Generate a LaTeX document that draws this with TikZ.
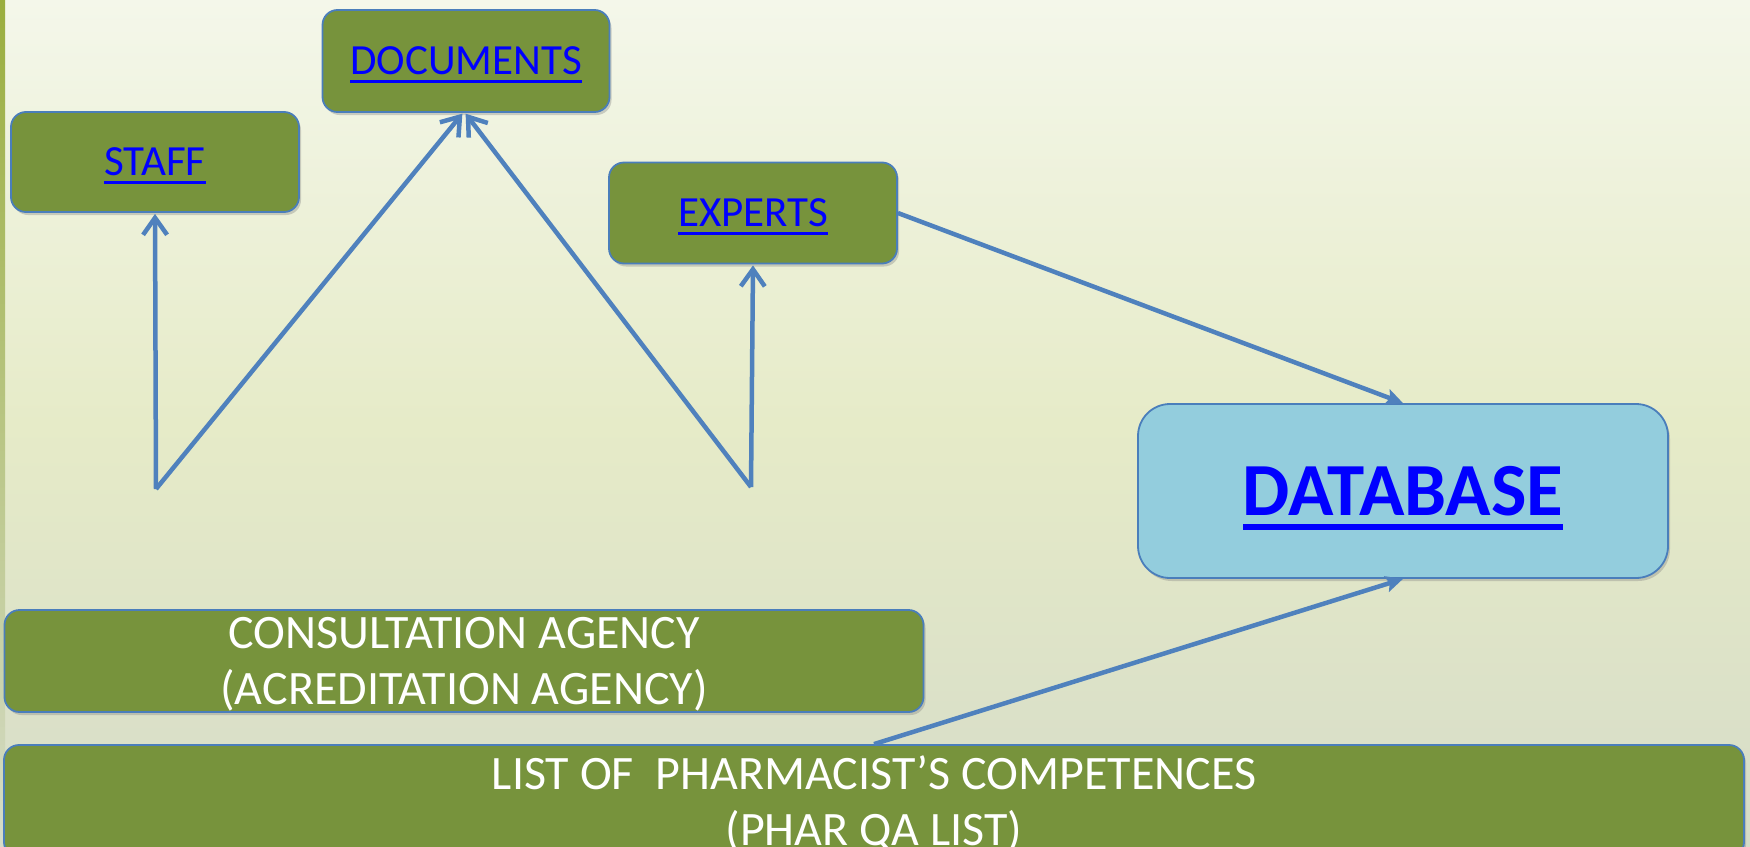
\documentclass[tikz,border=0pt]{standalone}
\usepackage{fontspec}
\setmainfont{Carlito}
\usetikzlibrary{arrows.meta,shadows}

\definecolor{olivebox}{HTML}{77933C}
\definecolor{edgeblue}{HTML}{4A7EBB}
\definecolor{arrowblue}{HTML}{4F81BD}
\definecolor{dbblue}{HTML}{93CDDD}
\definecolor{linkblue}{HTML}{0000FF}
\definecolor{bgtop}{HTML}{F4F7EA}
\definecolor{bgmid}{HTML}{E6EBC8}
\definecolor{bgbot}{HTML}{D6DCC8}
\definecolor{stripe}{HTML}{9AAE3E}

% underlined link text
\newcommand{\linktext}[1]{\setbox0\hbox{#1}\raisebox{-2pt}{\rlap{\smash{\rule[-0.19em]{\wd0}{0.07em}}}\box0}}

\begin{document}
\begin{tikzpicture}[x=1pt, y=-1pt,
            box/.style={rectangle, rounded corners=15pt, draw=edgeblue, line width=1.8pt, fill=olivebox, align=center,
                drop shadow={opacity=0.35, shadow xshift=2pt, shadow yshift=-3pt}},
            link/.style={box, text=linkblue, font=\fontsize{43}{51}\selectfont},
            plain/.style={box, text=white, inner sep=0pt, font=\fontsize{48}{56}\selectfont},
            arrow/.style={-{Straight Barb[length=17pt, width=24pt, line width=4.5pt]}, line width=4.5pt, arrowblue, shorten >=1pt},
            arrowdb/.style={-{Stealth[length=17pt, width=16pt, inset=3pt]}, line width=4.5pt, arrowblue}
        ]
            % background
            \shade[top color=bgtop, bottom color=bgbot, middle color=bgmid] (0,0) rectangle (1750,846);
            \shade[top color=stripe, bottom color=bgbot] (0,0) rectangle (5,846);
            \useasboundingbox (0,0) rectangle (1750,846);

            \node[link, minimum width=288pt, minimum height=100pt] (staff) at (155,162) {\linktext{STAFF}};
            \node[link, minimum width=287pt, minimum height=102pt] (documents) at (466,61) {\linktext{DOCUMENTS}};
            \node[link, minimum width=288pt, minimum height=101pt] (experts) at (753,213) {\linktext{EXPERTS}};
            \node[box, fill=dbblue, rounded corners=32pt, minimum width=530pt, minimum height=174pt, text=linkblue,
                font=\fontsize{75}{90}\selectfont\bfseries] (database) at (1403,491) {\linktext{DATABASE}};
            \node[plain, minimum width=919pt, minimum height=102pt] (agency) at (464,661) {CONSULTATION AGENCY\\\smash{(ACREDITATION AGENCY)}};
            \node[plain, minimum width=1740pt, minimum height=112pt] (list) at (874,801) {LIST OF~ PHARMACIST’S COMPETENCES\\\smash{(PHAR QA LIST)}};

            \coordinate (left) at (156,489);
            \coordinate (right) at (751,487);

            \draw[arrow] (left) -- (staff.south);
            \draw[arrow] (left) -- ([xshift=-3pt]documents.south);
            \draw[arrow] (right) -- ([xshift=-1pt]documents.south);
            \draw[arrow] (right) -- (experts.south);
            \draw[arrowdb] (experts.east) -- (database.north);
            \draw[arrowdb] (list.north) -- (database.south);
        \end{tikzpicture}
\end{document}
